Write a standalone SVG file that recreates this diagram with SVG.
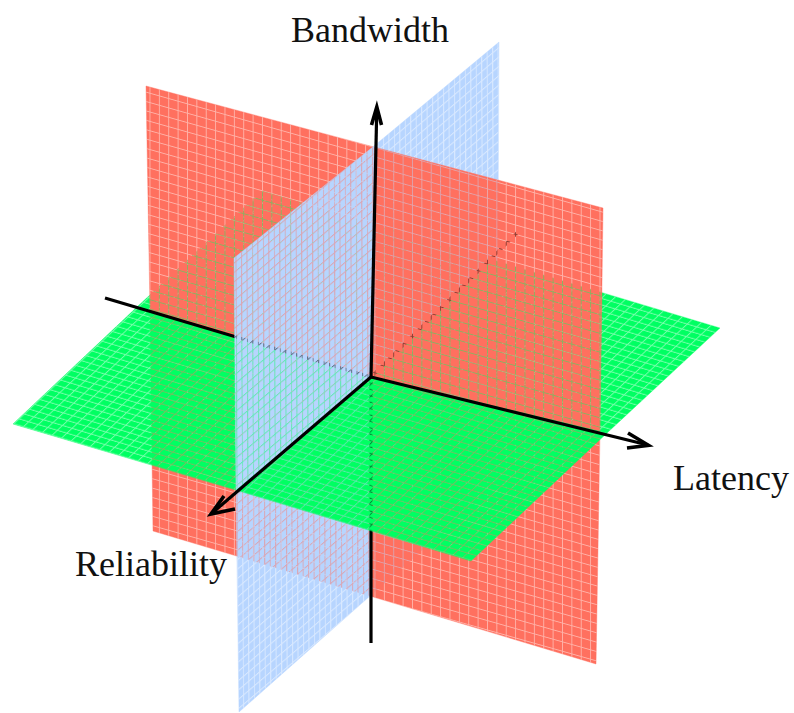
<svg xmlns="http://www.w3.org/2000/svg" width="794" height="713" viewBox="0 0 794 713">
<defs>
<style>
.axis{stroke:#000;stroke-width:3.2;fill:none;stroke-linecap:butt}
.head{stroke:#000;stroke-width:3.6;fill:none;stroke-linejoin:miter;stroke-miterlimit:10;stroke-linecap:butt}
.label{font-family:"Liberation Serif","Times New Roman",serif;font-size:36px;fill:#111}
.red{fill:url(#pat-red);stroke:#ff705f;stroke-width:0.4}
.blue{fill:url(#pat-blue);stroke:#b7d5ff;stroke-width:0.4}
.green{fill:url(#pat-green);stroke:#00ff62;stroke-width:0.4}
</style>
<pattern id="pat-red" patternUnits="userSpaceOnUse" width="10" height="10" patternTransform="matrix(0.9375 0.265625 0 0.938542 149.5 83.25)">
<rect width="10" height="10" fill="#ff705f" fill-opacity="0.55"/>
<rect x="1" y="1" width="9" height="9" fill="#ff705f"/>
</pattern>
<pattern id="pat-blue" patternUnits="userSpaceOnUse" width="10" height="10" patternTransform="matrix(0.545833 -0.463542 0.0041667 0.932292 235.5 261.25)">
<rect width="10" height="10" fill="#b7d5ff" fill-opacity="0.55"/>
<rect x="1.8" y="1.4" width="8.2" height="8.6" fill="#b7d5ff"/>
</pattern>
<pattern id="pat-green" patternUnits="userSpaceOnUse" width="10" height="10" patternTransform="matrix(0.954167 0.285417 0.51875 -0.485417 13 424)">
<rect width="10" height="10" fill="#00ff62" fill-opacity="0.55"/>
<rect x="1.15" y="1.6" width="8.85" height="8.4" fill="#00ff62"/>
</pattern>
</defs>
<rect width="794" height="713" fill="#fff"/>
<!-- far pieces -->
<g id="red-neg-latency-neg-bandwidth"><polygon class="red" points="150,311 371,377 370,596 153,531"/></g>
<g id="blue-neg-reliability-neg-bandwidth"><polygon class="blue" points="371,377 498,255 498,483 370,596"/></g>
<g id="green-neg-latency-neg-reliability"><polygon class="green" points="137,307 262,191 490,259 371,377"/></g>
<!-- middle pieces -->
<g id="red-neg-latency-pos-bandwidth"><polygon class="red" points="146,86 374,147 371,377 150,311"/></g>
<g id="red-pos-latency-neg-bandwidth"><polygon class="red" points="371,377 600,432 596,664 370,596"/></g>
<g id="blue-neg-reliability-pos-bandwidth"><polygon class="blue" points="374,146 499,42 498,255 371,377"/></g>
<g id="blue-pos-reliability-neg-bandwidth"><polygon class="blue" points="236,490 371,377 370,596 239,712"/></g>
<g id="green-neg-latency-pos-reliability"><polygon class="green" points="13,424 137,307 371,377 239,491"/></g>
<g id="green-pos-latency-neg-reliability"><polygon class="green" points="371,377 490,259 720,328 607,433"/></g>
<!-- axis parts lying behind near pieces -->
<g id="axes-back">
<line class="axis" x1="105" y1="298" x2="371" y2="377"/>
<line class="axis" x1="371" y1="377" x2="517" y2="233"/>
<line class="axis" x1="371" y1="377" x2="371" y2="643"/>
</g>
<!-- near pieces -->
<g id="red-pos-latency-pos-bandwidth"><polygon class="red" points="374,147 603,208 600,432 371,377"/></g>
<g id="blue-pos-reliability-pos-bandwidth"><polygon class="blue" points="234,258 374,146 371,377 236,490"/></g>
<g id="green-pos-latency-pos-reliability"><polygon class="green" points="239,491 371,377 607,433 471,561"/></g>
<!-- front axes -->
<g id="axes-front">
<line class="axis" x1="371" y1="377" x2="376.8" y2="108"/>
<polyline class="head" points="371.5,125 376.8,107 381.5,125"/>
<line class="axis" x1="371" y1="377" x2="648" y2="445"/>
<polyline class="head" points="628,433 648.5,445.3 627,448"/>
<line class="axis" x1="371" y1="377" x2="211" y2="514"/>
<polyline class="head" points="224,496 211,514 235,509"/>
</g>
<g id="labels">
<text class="label" x="291" y="42">Bandwidth</text>
<text class="label" x="673" y="490">Latency</text>
<text class="label" x="75" y="576">Reliability</text>
</g>
</svg>
